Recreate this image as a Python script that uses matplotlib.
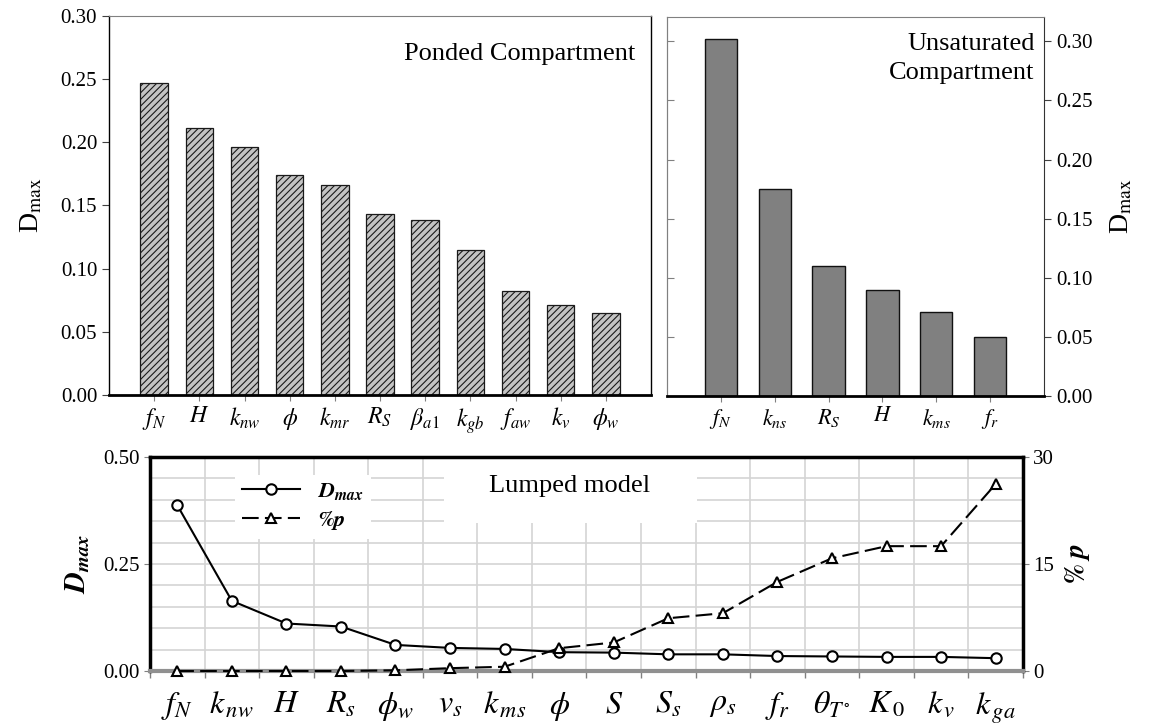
import numpy as np
import matplotlib.pyplot as plt
from matplotlib.patches import Rectangle
from matplotlib.ticker import MultipleLocator, FixedLocator, FormatStrFormatter

plt.rcParams['font.family'] = 'serif'
plt.rcParams['font.serif'] = ['Liberation Serif', 'DejaVu Serif']
plt.rcParams['mathtext.fontset'] = 'stix'
plt.rcParams['hatch.linewidth'] = 0.8

# ponded compartment
ponded_labels = [r'$f_N$', r'$H$', r'$k_{nw}$', r'$\phi$', r'$k_{mr}$', r'$R_S$',
                 r'$\beta_{a1}$', r'$k_{gb}$', r'$f_{aw}$', r'$k_v$', r'$\phi_w$']
ponded_dmax = [0.247, 0.211, 0.196, 0.174, 0.1665, 0.1435, 0.1388, 0.115, 0.0827, 0.0709, 0.065]

# unsaturated compartment
unsat_labels = [r'$f_N$', r'$k_{ns}$', r'$R_S$', r'$H$', r'$k_{ms}$', r'$f_r$']
unsat_dmax = [0.302, 0.175, 0.1096, 0.0893, 0.0713, 0.0496]

# lumped model
lumped_labels = [r'$f_N$', r'$k_{\,nw}$', r'$H$', r'$R_s$', r'$\phi_w$', r'$v_s$', r'$k_{\,ms}$',
                 r'$\phi$', r'$S$', r'$S_s$', r'$\rho_s$', r'$f_r$', r'$\theta_{T^{\circ}}$',
                 r'$K_{\,\mathit{0}}$', r'$k_{\,v}$', r'$k_{\,ga}$']
lumped_dmax = [0.3875, 0.164, 0.111, 0.104, 0.061, 0.054, 0.0516, 0.044,
               0.043, 0.039, 0.039, 0.035, 0.034, 0.033, 0.033, 0.030]
lumped_p = [0, 0, 0, 0, 0.1, 0.4, 0.6, 3.2, 4.0, 7.4, 8.1, 12.5, 15.8, 17.5, 17.5, 26.2]

fig = plt.figure(figsize=(11.5, 7.27), dpi=100)
ax1 = fig.add_axes([0.0948, 0.4567, 0.4713, 0.5213])
ax2 = fig.add_axes([0.58, 0.4553, 0.3278, 0.5213])
ax3 = fig.add_axes([0.1304, 0.077, 0.7591, 0.2944])

# ---- top left
x1 = np.arange(len(ponded_dmax))
ax1.bar(x1, ponded_dmax, width=0.61, color='#c4c4c4', edgecolor='#1a1a1a',
        hatch='/////', linewidth=0.9)
ax1.set_xlim(-1, len(ponded_dmax))
ax1.set_ylim(0, 0.30)
ax1.set_yticks(np.arange(0, 0.301, 0.05))
ax1.yaxis.set_major_formatter(FormatStrFormatter('%.2f'))
ax1.set_xticks(x1, ponded_labels)
ax1.tick_params(axis='x', length=4, color='#808080', labelsize=17, pad=4)
ax1.tick_params(axis='y', length=5, color='#404040', labelsize=15)
ax1.spines['top'].set_color('#808080')
ax1.spines['left'].set_linewidth(1.0)
ax1.spines['right'].set_linewidth(1.0)
ax1.spines['bottom'].set_linewidth(2.0)
ax1.text(0.97, 0.9, 'Ponded Compartment', transform=ax1.transAxes,
         ha='right', va='center', fontsize=19)
ax1.set_ylabel(r'D$_{\rm max}$', fontsize=20, labelpad=12)

# ---- top right
x2 = np.arange(len(unsat_dmax))
ax2.bar(x2, unsat_dmax, width=0.6, color='#808080', edgecolor='#111111', linewidth=1.0)
ax2.set_xlim(-1, len(unsat_dmax))
ax2.set_ylim(0, 0.3206)
ax2.set_yticks(np.arange(0, 0.301, 0.05))
ax2.yaxis.set_major_formatter(FormatStrFormatter('%.2f'))
ax2.yaxis.tick_right()
ax2.yaxis.set_label_position('right')
ax2.set_xticks(x2, unsat_labels)
ax2.tick_params(axis='x', length=4, color='#808080', labelsize=16, pad=4)
ax2.tick_params(axis='y', length=5, color='#404040', labelsize=15)
ax2.spines['top'].set_color('#808080')
ax2.spines['left'].set_color('#808080')
ax2.spines['right'].set_color('#333333')
ax2.spines['bottom'].set_linewidth(2.0)
sec = ax2.secondary_yaxis('left')
sec.set_yticks(np.arange(0, 0.301, 0.05))
sec.tick_params(direction='in', length=5, color='#808080', labelleft=False)
sec.spines['left'].set_color('#808080')
ax2.text(0.975, 0.89, 'Unsaturated\nCompartment', transform=ax2.transAxes,
         ha='right', va='center', multialignment='right', fontsize=19, linespacing=1.4)
ax2.set_ylabel(r'D$_{\rm max}$', fontsize=20, labelpad=12)

# ---- bottom
x3 = np.arange(len(lumped_dmax))
ax3.set_axisbelow(True)
l1, = ax3.plot(x3, lumped_dmax, '-o', color='black', mfc='white', ms=7.5, lw=1.5,
               mew=1.5, label=r'$\mathbfit{D_{max}}$', zorder=3)
ax3.set_xlim(-0.5, len(lumped_dmax) - 0.5)
ax3.set_ylim(0, 0.5)
ax3.set_yticks([0, 0.25, 0.5])
ax3.yaxis.set_major_formatter(FormatStrFormatter('%.2f'))
ax3.yaxis.set_minor_locator(MultipleLocator(0.05))
ax3.set_xticks(x3, lumped_labels)
ax3.xaxis.set_minor_locator(FixedLocator(np.arange(-0.5, len(lumped_dmax), 1)))
ax3.grid(axis='y', which='both', color='#d4d4d4', lw=1.2)
ax3.grid(axis='x', which='minor', color='#d4d4d4', lw=1.2)
ax3.tick_params(axis='x', which='major', length=0, labelsize=23, pad=14)
ax3.tick_params(axis='x', which='minor', length=5, color='#808080', width=1)
ax3.tick_params(axis='y', which='major', length=4, color='#808080', labelsize=15)
ax3.tick_params(axis='y', which='minor', length=0)
ax3.add_patch(Rectangle((0.337, 0.692), 0.29, 0.31, transform=ax3.transAxes,
                        facecolor='white', edgecolor='none', zorder=1))
ax3.text(0.481, 0.864, 'Lumped model', transform=ax3.transAxes,
         ha='center', va='center', fontsize=19, zorder=2)
ax3.set_ylabel(r'$\mathbfit{D_{max}}$', fontsize=21, labelpad=8)
for s in ax3.spines.values():
    s.set_visible(False)

ax3b = ax3.twinx()
l2, = ax3b.plot(x3, lumped_p, '--^', color='black', mfc='white', ms=7.5, lw=1.5,
                mew=1.5, dashes=(8, 3), label=r'$\mathbfit{\%p}$', zorder=4, clip_on=False)
ax3b.set_ylim(0, 30)
ax3b.set_yticks([0, 15, 30])
ax3b.tick_params(axis='y', length=4, color='#808080', labelsize=15)
for side in ['left', 'top', 'right']:
    ax3b.spines[side].set_linewidth(2.5)
ax3b.spines['bottom'].set_color('#909090')
ax3b.spines['bottom'].set_linewidth(3)
ax3b.set_ylabel(r'$\mathbfit{\%\ p}$', fontsize=20, labelpad=6)
ax3b.legend(handles=[l1, l2], loc='upper left', bbox_to_anchor=(0.085, 0.97),
            frameon=True, framealpha=1, edgecolor='none', fancybox=False,
            fontsize=16, handlelength=2.6, borderpad=0.3, labelspacing=0.3)

fig.savefig('out.png', dpi=100)
